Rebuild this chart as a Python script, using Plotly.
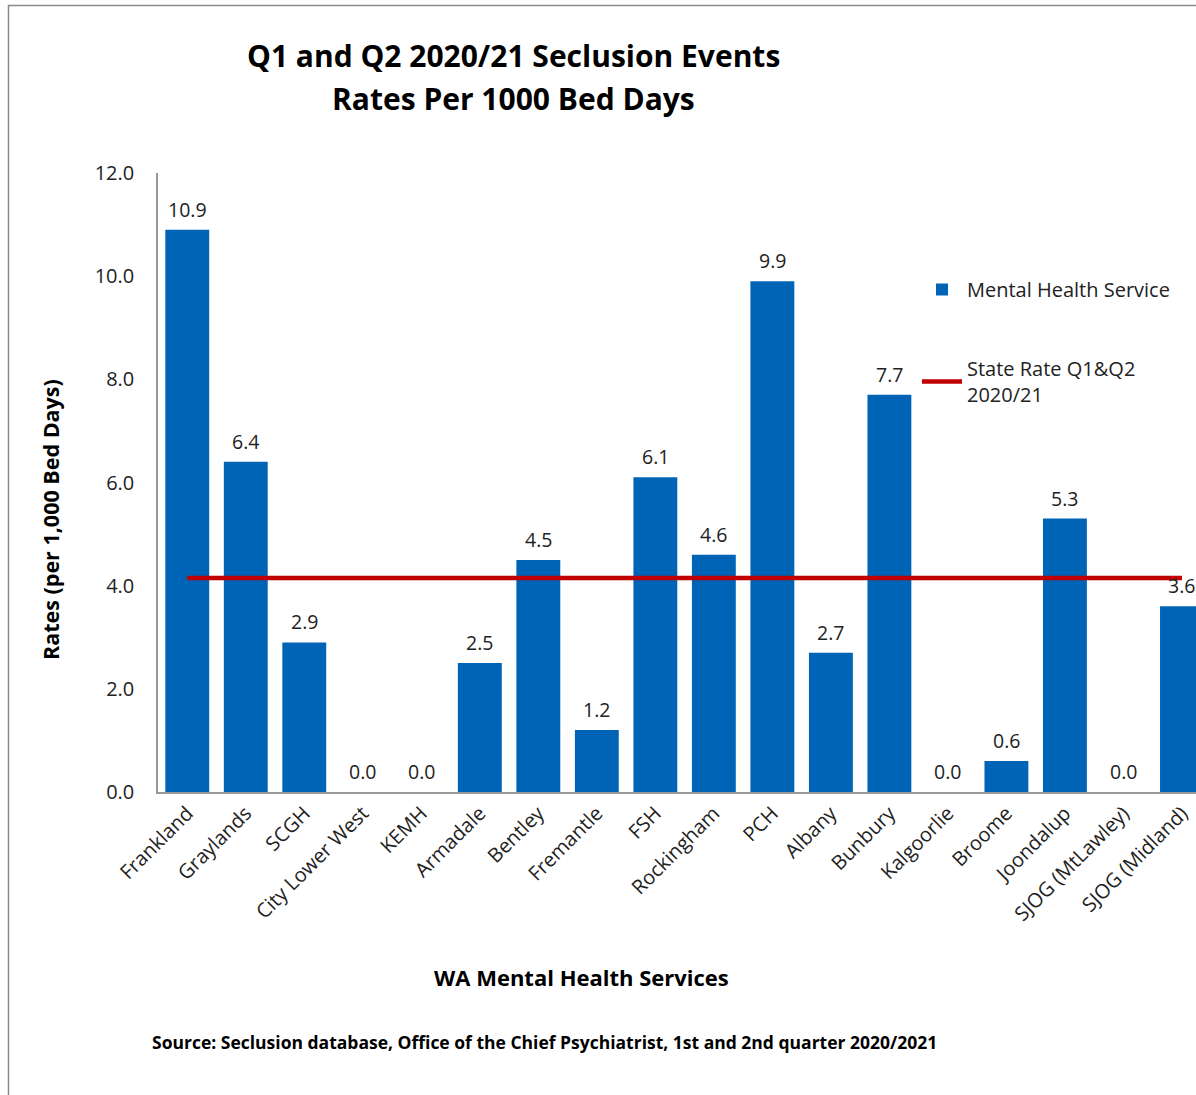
import plotly.graph_objects as go

categories = ["Frankland", "Graylands", "SCGH", "City Lower West", "KEMH", "Armadale",
              "Bentley", "Fremantle", "FSH", "Rockingham", "PCH", "Albany", "Bunbury",
              "Kalgoorlie", "Broome", "Joondalup", "SJOG (MtLawley)", "SJOG (Midland)"]
rates = [10.9, 6.4, 2.9, 0.0, 0.0, 2.5, 4.5, 1.2, 6.1, 4.6, 9.9, 2.7, 7.7, 0.0, 0.6, 5.3, 0.0, 3.6]
state_rate = [4.15] * len(categories)
y_ticks = [0, 2, 4, 6, 8, 10, 12]

FONT = "Open Sans"
W, H = 1196, 1095
L, R, T, B = 158, 0, 173, 303
pw, ph = W - L - R, H - T - B

def px(xp):
    return (xp - L) / pw

def py(yp):
    return (H - B - yp) / ph

fig = go.Figure()
fig.add_trace(go.Bar(
    x=categories, y=rates, name="Mental Health Service",
    marker=dict(color="#0064B6", line=dict(width=0)),
    width=0.75, legendgroup="a",
))
fig.add_trace(go.Scatter(
    x=categories, y=state_rate, name="State Rate Q1&Q2<br>2020/21",
    mode="lines", line=dict(color="#C00000", width=4.5), legendgroup="b",
))

annotations = []
for c, v in zip(categories, rates):
    annotations.append(dict(x=c, y=v, text=f"{v:.1f}", showarrow=False,
                            yanchor="bottom", yshift=5,
                            font=dict(family=FONT, size=19.5, color="#222")))

annotations += [
    dict(xref="paper", yref="paper", x=px(513), y=py(55), text="<b>Q1 and Q2 2020/21 Seclusion Events</b>",
         showarrow=False, xanchor="center", yanchor="middle", font=dict(family=FONT, size=30, color="#000")),
    dict(xref="paper", yref="paper", x=px(513), y=py(99), text="<b>Rates Per 1000 Bed Days</b>",
         showarrow=False, xanchor="center", yanchor="middle", font=dict(family=FONT, size=30, color="#000")),
    dict(xref="paper", yref="paper", x=px(50), y=py(520), text="<b>Rates (per 1,000 Bed Days)</b>",
         showarrow=False, textangle=-90, xanchor="center", yanchor="middle",
         font=dict(family=FONT, size=21.5, color="#000")),
    dict(xref="paper", yref="paper", x=px(581), y=py(977), text="<b>WA Mental Health Services</b>",
         showarrow=False, xanchor="center", yanchor="middle", font=dict(family=FONT, size=22, color="#000")),
    dict(xref="paper", yref="paper", x=px(544), y=py(1042),
         text="<b>Source: Seclusion database, Office of the Chief Psychiatrist, 1st and 2nd quarter 2020/2021</b>",
         showarrow=False, xanchor="center", yanchor="middle", font=dict(family=FONT, size=17.5, color="#000")),
]

fig.update_layout(
    width=W, height=H,
    margin=dict(l=L, r=R, t=T, b=B, pad=0),
    paper_bgcolor="white", plot_bgcolor="white",
    font=dict(family=FONT, size=18, color="#222"),
    showlegend=True,
    legend=dict(x=px(917), y=py(270), xanchor="left", yanchor="top",
                traceorder="grouped", tracegroupgap=50,
                font=dict(family=FONT, size=20, color="#222"),
                bgcolor="rgba(0,0,0,0)", itemwidth=40),
    annotations=annotations,
    shapes=[dict(type="rect", xref="paper", yref="paper",
                 x0=px(8.5), x1=1.05, y0=-0.6, y1=py(5.5),
                 line=dict(color="#8a8a8a", width=1.5), layer="below")],
)
fig.update_xaxes(
    range=[-0.5, 17.24], showline=True, linecolor="#999", linewidth=1.5,
    tickangle=-45, ticks="", showgrid=False,
    tickfont=dict(family=FONT, size=20, color="#222"),
)
fig.update_yaxes(
    range=[0, 12], tickvals=y_ticks, tickformat=".1f", showline=True,
    linecolor="#999", linewidth=1.5, ticks="", showgrid=False, zeroline=False,
    tickfont=dict(family=FONT, size=20, color="#222"), ticklabelstandoff=18,
)

fig.write_html("out.html", config={"displayModeBar": False},
               post_script="document.body.style.margin='0';document.body.style.overflow='hidden';")
